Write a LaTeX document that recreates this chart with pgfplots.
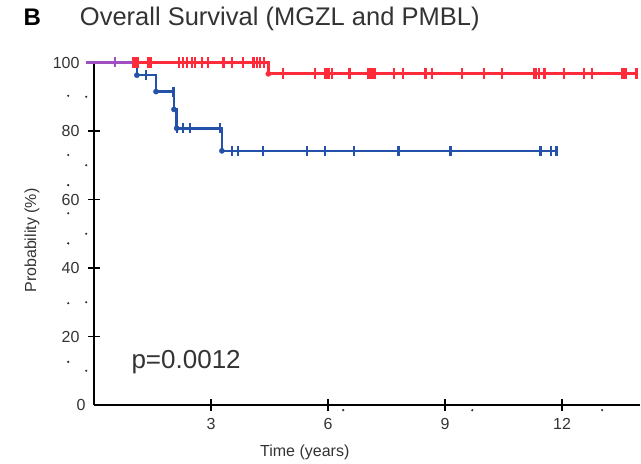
\documentclass[border=0pt]{standalone}
\usepackage{fontspec}
\setmainfont{Liberation Sans}
\usepackage{pgfplots}
\pgfplotsset{compat=1.18}
\definecolor{kmred}{HTML}{FF2A3A}
\definecolor{kmblue}{HTML}{2452A8}
\definecolor{kmpurple}{HTML}{A04FC0}
\definecolor{ticktext}{HTML}{333333}
\begin{document}
\begin{tikzpicture}
\useasboundingbox (-94bp,-59bp) rectangle (547bp,405bp);
\begin{axis}[at={(0,0)},anchor=south west,scale only axis,
width=546bp,height=342.5bp,xmin=0,xmax=14,ymin=0,ymax=100,clip=false,
axis lines=left,axis line style={line width=2bp,-},
xtick={3,6,9,12},ytick={20,40,60,80,100},
extra y ticks={0},extra y tick style={major tick length=0pt},
tick align=center,major tick length=12bp,
every tick/.style={black,line width=1.8bp},
tick label style={font=\fontsize{16bp}{16bp}\selectfont,text=ticktext},
yticklabel style={xshift=-5bp},
xticklabel style={yshift=-4bp},
/pgf/number format/assume math mode=true,
label style={font=\fontsize{16bp}{16bp}\selectfont,text=ticktext},
xlabel={Time (years)},ylabel={Probability (\%)},
xlabel style={at={(axis description cs:0.386,-0.137)},anchor=center},
ylabel style={at={(axis description cs:-0.1136,0.48)},anchor=center}]
% decoration dots beside the axes
\addplot[only marks,mark=*,mark size=0.9bp,ticktext] coordinates {(-0.2,10)(-0.2,30)(-0.2,50)(-0.2,70)(-0.2,90)};
\addplot[only marks,mark=*,mark size=0.9bp,ticktext] coordinates {(-0.66,90.3)(-0.66,73)(-0.66,64.2)(-0.66,56)(-0.66,47.2)(-0.66,29.7)(-0.66,12.6)};
\addplot[only marks,mark=*,mark size=0.9bp,ticktext] coordinates {(6.39,-1.5)(9.7,-1.5)(13.03,-1.5)};
% PMBL / MGZL curves
\addplot[const plot,kmblue,line width=2.6bp] coordinates {(0,100)(1.1,96.3)(1.59,91.5)(2.05,86.3)(2.12,80.8)(3.28,74.2)(11.91,74.2)};
\addplot[only marks,mark=|,mark size=5bp,kmblue,mark options={line width=2.2bp}] coordinates {(1.33,96.3)(2.04,91.5)(2.12,80.8)(2.29,80.8)(2.46,80.8)(3.23,80.8)(3.53,74.2)(3.70,74.2)(4.34,74.2)(5.46,74.2)(5.93,74.2)(6.67,74.2)(7.81,74.2)(9.14,74.2)(11.45,74.2)(11.72,74.2)(11.86,74.2)};
\addplot[only marks,mark=*,mark size=2.6bp,kmblue] coordinates {(1.1,96.3)(1.59,91.5)(2.05,86.3)(2.12,80.8)(3.28,74.2)};
\addplot[const plot,kmred,line width=2.6bp] coordinates {(0.97,100)(4.47,96.7)(13.91,96.7)};
\addplot[only marks,mark=|,mark size=5.5bp,kmred,mark options={line width=2.2bp}] coordinates {(1.0,100)(1.04,100)(1.08,100)(1.12,100)(1.39,100)(1.43,100)(1.46,100)(2.18,100)(2.29,100)(2.39,100)(2.51,100)(2.59,100)(2.76,100)(2.93,100)(3.32,100)(3.53,100)(3.83,100)(4.09,100)(4.18,100)(4.26,100)(4.35,100)(4.84,96.7)(5.67,96.7)(5.93,96.7)(5.98,96.7)(6.03,96.7)(6.10,96.7)(6.55,96.7)(7.04,96.7)(7.10,96.7)(7.16,96.7)(7.21,96.7)(7.70,96.7)(7.92,96.7)(8.50,96.7)(8.67,96.7)(9.44,96.7)(9.99,96.7)(10.46,96.7)(11.28,96.7)(11.34,96.7)(11.40,96.7)(11.55,96.7)(12.06,96.7)(12.56,96.7)(12.77,96.7)(13.54,96.7)(13.59,96.7)(13.63,96.7)(13.91,96.7)};
\addplot[only marks,mark=*,mark size=2.6bp,kmred] coordinates {(4.47,96.7)};
% overlap of both curves at the start
\addplot[kmpurple,line width=2.6bp] coordinates {(-0.2,100)(0.97,100)};
\addplot[only marks,mark=|,mark size=5bp,kmpurple,mark options={line width=2.2bp}] coordinates {(0.54,100)};
\node[anchor=base west,font=\fontsize{24bp}{24bp}\selectfont\bfseries] at (axis description cs:-0.1355,1.1066) {B};
\node[anchor=base west,font=\fontsize{25.5bp}{25.5bp}\selectfont,text=ticktext] at (axis description cs:-0.0322,1.1066) {Overall Survival (MGZL and PMBL)};
\node[anchor=base west,font=\fontsize{26bp}{26bp}\selectfont,text=ticktext] at (axis description cs:0.0623,0.108) {p=0.0012};
\end{axis}
\end{tikzpicture}
\end{document}
